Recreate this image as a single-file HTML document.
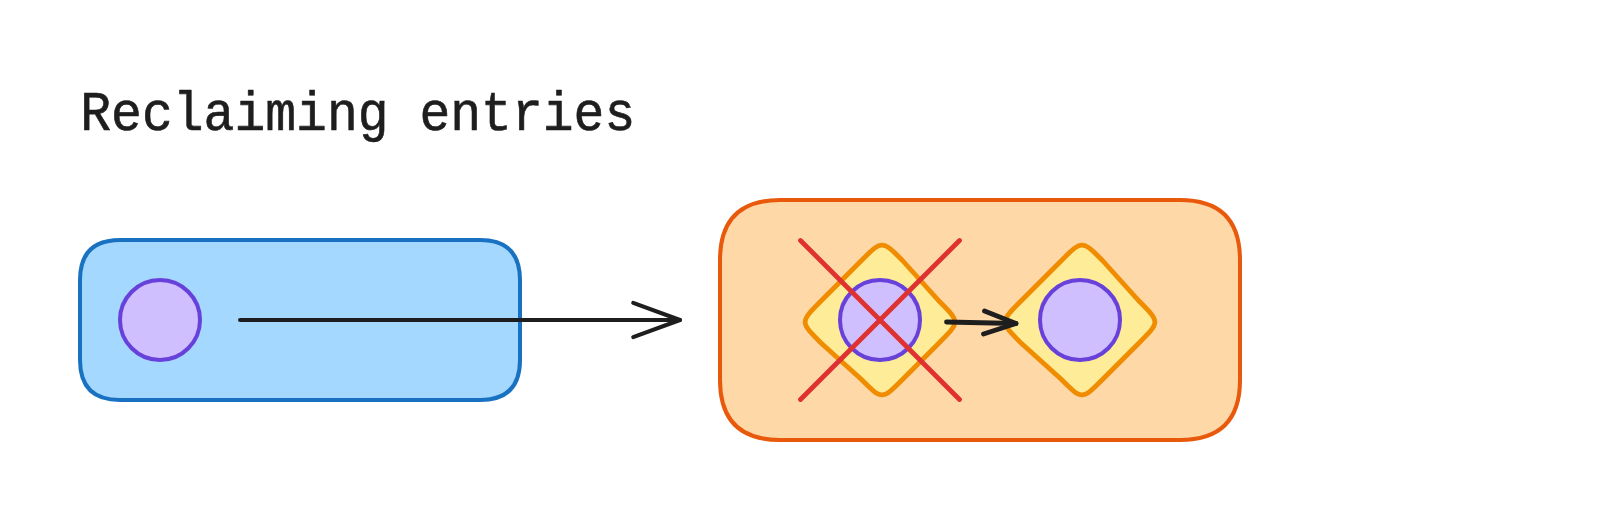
<!DOCTYPE html>
<html><head><meta charset="utf-8">
<style>
html,body{margin:0;padding:0;background:#ffffff;}
body{width:1600px;height:520px;overflow:hidden;position:relative;}
svg{position:absolute;left:0;top:0;}
.t{font-family:"Liberation Mono",monospace;}
</style></head>
<body>
<svg width="1600" height="520" viewBox="0 0 1600 520">
<rect x="0" y="0" width="1600" height="520" fill="#ffffff"/>
<text class="t" transform="translate(0 130) scale(1 1.08) translate(0 -130)" x="80.2" y="130" font-size="51.4" fill="#1e1e1e" stroke="#1e1e1e" stroke-width="0.6" stroke-linejoin="round">Reclaiming entries</text>
<!-- blue rect -->
<path d="M120 240 L480 240 Q520 240 520 280 L520 360 Q520 400 480 400 L120 400 Q80 400 80 360 L80 280 Q80 240 120 240 Z" fill="#a5d8ff" stroke="#1971c2" stroke-width="4"/>
<circle cx="160" cy="320" r="40" fill="#d0bfff" stroke="#6741d9" stroke-width="4"/>
<!-- long arrow -->
<g fill="none" stroke="#1e1e1e" stroke-width="4" stroke-linecap="round" stroke-linejoin="round">
<path d="M240 320 L680 320"/>
<path d="M633.2 302.9 L680 320 L633.2 337.1"/>
</g>
<!-- orange rect -->
<path d="M780 200 L1180 200 Q1240 200 1240 260 L1240 380 Q1240 440 1180 440 L780 440 Q720 440 720 380 L720 260 Q720 200 780 200 Z" fill="#ffd8a8" stroke="#e8590c" stroke-width="4"/>
<!-- diamond 1 -->
<path d="M902.5 260.5 L939.5 301.5 C960 322 960 322 939.5 342.5 L902.5 379.5 C882 400 882 400 861.5 379.5 L820.5 342.5 C800 322 800 322 820.5 301.5 L861.5 260.5 C882 240 882 240 902.5 260.5 Z" fill="#ffec99" stroke="#f08c00" stroke-width="4.8"/>
<circle cx="880" cy="320" r="40" fill="#d0bfff" stroke="#6741d9" stroke-width="4"/>
<!-- diamond 2 -->
<path d="M1102.5 260.5 L1139.5 301.5 C1160 322 1160 322 1139.5 342.5 L1102.5 379.5 C1082 400 1082 400 1061.5 379.5 L1020.5 342.5 C1000 322 1000 322 1020.5 301.5 L1061.5 260.5 C1082 240 1082 240 1102.5 260.5 Z" fill="#ffec99" stroke="#f08c00" stroke-width="4.8"/>
<circle cx="1080" cy="320" r="40" fill="#d0bfff" stroke="#6741d9" stroke-width="4"/>
<!-- short arrow -->
<g fill="none" stroke="#1e1e1e" stroke-width="4.8" stroke-linecap="round" stroke-linejoin="round">
<path d="M946.5 322 L1016 323.5"/>
<path d="M984.5 311 L1016 323.5 L983.5 334"/>
</g>
<!-- red X -->
<g fill="none" stroke="#e03131" stroke-width="4.8" stroke-linecap="round">
<path d="M800.5 240.5 L959.5 399.5"/>
<path d="M959.5 240.5 L800.5 399.5"/>
</g>
</svg>
</body></html>
